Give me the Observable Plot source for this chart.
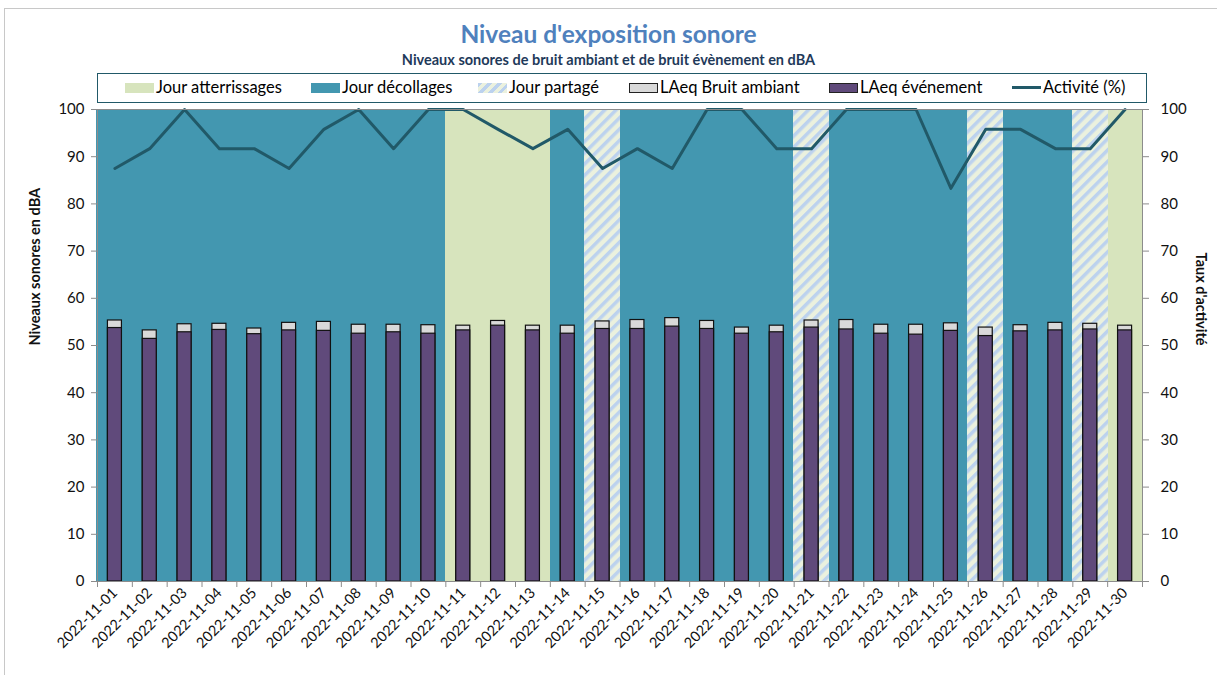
<!DOCTYPE html>
<html>
<head>
<meta charset="utf-8">
<script src="https://cdn.jsdelivr.net/npm/d3@7"></script>
<script src="https://cdn.jsdelivr.net/npm/@observablehq/plot@0.6"></script>
<style>
  body { margin: 0; background: #fff; font-family: Lato, "Open Sans", sans-serif; }
  #outer { position: absolute; left: 4px; top: 8px; width: 1240px; height: 700px; border: 1px solid #c8c8c8; box-sizing: border-box; }
  #wrap { position: relative; width: 1217px; }
  #head { position: relative; height: 90px; }
  #title { position: absolute; left: 0; width: 1217px; top: 20px; text-align: center; font-size: 24.5px; font-weight: bold; color: #4f81bd; line-height: 28px; }
  #subtitle { position: absolute; left: 0; width: 1217px; top: 51px; text-align: center; font-size: 14.5px; font-weight: bold; color: #1f3a5a; line-height: 17px; }
  #legend { position: absolute; left: 97px; top: 73px; width: 1050px; height: 30px; border: 1.5px solid #215968; box-sizing: border-box; font-size: 16.5px; z-index: 2; background: #fff; }
  .li { position: absolute; top: 0; height: 27px; line-height: 27px; white-space: nowrap; }
  .sw { display: inline-block; width: 29px; height: 10px; vertical-align: middle; margin-right: 2px; box-sizing: border-box; position: relative; top: -1px; }
  .ln { display: inline-block; width: 29px; height: 3px; background: #215968; vertical-align: middle; margin-right: 2px; position: relative; top: -1px; }
</style>
</head>
<body>
<div id="outer"></div>
<div id="wrap">
  <div id="head">
    <div id="title">Niveau d'exposition sonore</div>
    <div id="subtitle">Niveaux sonores de bruit ambiant et de bruit évènement en dBA</div>
    <div id="legend"></div>
  </div>
  <div id="chart"></div>
</div>
<script>
const dates = ["2022-11-01","2022-11-02","2022-11-03","2022-11-04","2022-11-05","2022-11-06","2022-11-07","2022-11-08","2022-11-09","2022-11-10",
  "2022-11-11","2022-11-12","2022-11-13","2022-11-14","2022-11-15","2022-11-16","2022-11-17","2022-11-18","2022-11-19","2022-11-20",
  "2022-11-21","2022-11-22","2022-11-23","2022-11-24","2022-11-25","2022-11-26","2022-11-27","2022-11-28","2022-11-29","2022-11-30"];
// D = Jour décollages, A = Jour atterrissages, P = Jour partagé
const dayType = ["D","D","D","D","D","D","D","D","D","D",
  "A","A","A","D","P","D","D","D","D","D",
  "P","D","D","D","D","P","D","D","P","A"];
const laeqAmbiant = [55.3,53.2,54.5,54.6,53.6,54.8,55.0,54.4,54.4,54.3,
  54.2,55.2,54.2,54.2,55.1,55.4,55.8,55.2,53.8,54.2,
  55.3,55.4,54.4,54.4,54.7,53.8,54.3,54.8,54.6,54.2];
const laeqEvenement = [53.7,51.4,52.8,53.3,52.4,53.2,53.1,52.5,52.8,52.5,
  53.2,54.2,53.2,52.5,53.5,53.5,54.0,53.5,52.5,52.8,
  53.8,53.4,52.5,52.3,53.1,52.0,53.0,53.2,53.4,53.2];
const activite = [87.5,91.7,100,91.7,91.7,87.5,95.8,100,91.7,100,
  100,95.8,91.7,95.8,87.5,91.7,87.5,100,100,91.7,
  91.7,100,100,100,83.3,95.8,95.8,91.7,91.7,100];
const yTicks = [0,10,20,30,40,50,60,70,80,90,100];

const legendItems = [
  {label: "Jour atterrissages", kind: "A", left: 27},
  {label: "Jour décollages", kind: "D", left: 213},
  {label: "Jour partagé", kind: "P", left: 380},
  {label: "LAeq Bruit ambiant", kind: "G", left: 531},
  {label: "LAeq événement", kind: "E", left: 731},
  {label: "Activité (%)", kind: "L", left: 914}
];

const C = {
  A: "#d7e4bd", D: "#4397b0", Pbg: "#ebf1de", Pstripe: "#bcd2ee",
  grey: "#d9d9d9", purple: "#604a7b", line: "#215968", axis: "#8c8c8c"
};

const rows = dates.map((d, i) => ({date: d, type: dayType[i], ambiant: laeqAmbiant[i], evenement: laeqEvenement[i], activite: activite[i]}));

// legend
const leg = document.getElementById("legend");
for (const it of legendItems) {
  const el = document.createElement("div");
  el.className = "li";
  el.style.left = it.left + "px";
  let sw;
  if (it.kind === "L") {
    sw = document.createElement("span"); sw.className = "ln";
  } else {
    sw = document.createElement("span"); sw.className = "sw";
    if (it.kind === "A") sw.style.background = C.A;
    if (it.kind === "D") sw.style.background = C.D;
    if (it.kind === "P") sw.style.background = `repeating-linear-gradient(135deg, ${C.Pstripe} 0 3px, ${C.Pbg} 3px 7px)`;
    if (it.kind === "G") { sw.style.background = C.grey; sw.style.border = "1.5px solid #222"; }
    if (it.kind === "E") { sw.style.background = C.purple; sw.style.border = "1.5px solid #222"; }
  }
  el.appendChild(sw);
  el.appendChild(document.createTextNode(it.label));
  leg.appendChild(el);
}

const W = 1217, H = 585, mL = 97, mR = 75, mT = 19, mB = 94;
const bw = (W - mL - mR) / dates.length;
const barInset = (bw - 14) / 2;
const bgOpts = {x: "date", y1: 0, y2: 100, insetLeft: -0.6, insetRight: -0.6, shapeRendering: "crispEdges"};

const chart = Plot.plot({
  width: W, height: H,
  marginLeft: mL, marginRight: mR, marginTop: mT, marginBottom: mB,
  style: {fontFamily: "Lato, 'Open Sans', sans-serif", fontSize: "15px", color: "#111", background: "transparent"},
  x: {type: "band", domain: dates, padding: 0, round: false, label: null},
  y: {domain: [0, 100], label: null},
  marks: [
    Plot.barY(rows.filter(r => r.type === "D"), {...bgOpts, fill: C.D}),
    Plot.barY(rows.filter(r => r.type === "A"), {...bgOpts, fill: C.A}),
    Plot.barY(rows.filter(r => r.type === "P"), {...bgOpts, fill: "url(#hatch)"}),
    Plot.barY(rows, {x: "date", y1: 0, y2: "ambiant", fill: C.grey, stroke: "#111", strokeWidth: 1.2, insetLeft: barInset, insetRight: barInset}),
    Plot.barY(rows, {x: "date", y1: 0, y2: "evenement", fill: C.purple, stroke: "#111", strokeWidth: 1.2, insetLeft: barInset, insetRight: barInset}),
    Plot.line(rows, {x: "date", y: "activite", stroke: C.line, strokeWidth: 3}),
    Plot.frame({stroke: C.axis}),
    Plot.ruleX(dates, {x: d => d, y1: 0, y2: 0, dx: -bw / 2, insetBottom: -6, stroke: C.axis}),
    Plot.ruleX([dates[dates.length - 1]], {x: d => d, y1: 0, y2: 0, dx: bw / 2, insetBottom: -6, stroke: C.axis}),
    Plot.axisY({anchor: "left", ticks: yTicks, tickSize: 6, tickPadding: 7, stroke: C.axis, label: null, fill: "#111"}),
    Plot.axisY({anchor: "right", ticks: yTicks, tickSize: 6, tickPadding: 12, stroke: C.axis, label: null, fill: "#111"}),
    Plot.axisX({tickRotate: -45, tickSize: 0, tickPadding: 9, fontSize: 14.5, label: null, fill: "#111"}),
    Plot.text(["Niveaux sonores en dBA"], {frameAnchor: "left", dx: -62, rotate: -90, fontWeight: "bold", fontSize: 14.5, fill: "#111"}),
    Plot.text(["Taux d'activité"], {frameAnchor: "right", dx: 58, rotate: 90, fontWeight: "bold", fontSize: 14.5, fill: "#111"})
  ]
});

// hatch pattern for "Jour partagé"
const ns = "http://www.w3.org/2000/svg";
const defs = document.createElementNS(ns, "defs");
const pat = document.createElementNS(ns, "pattern");
pat.setAttribute("id", "hatch");
pat.setAttribute("patternUnits", "userSpaceOnUse");
pat.setAttribute("width", "8");
pat.setAttribute("height", "8");
pat.setAttribute("patternTransform", "rotate(45)");
const r1 = document.createElementNS(ns, "rect");
r1.setAttribute("width", "8"); r1.setAttribute("height", "8"); r1.setAttribute("fill", C.Pbg);
const r2 = document.createElementNS(ns, "rect");
r2.setAttribute("width", "3.5"); r2.setAttribute("height", "8"); r2.setAttribute("fill", C.Pstripe);
pat.appendChild(r1); pat.appendChild(r2);
defs.appendChild(pat);
chart.insertBefore(defs, chart.firstChild);

document.getElementById("chart").appendChild(chart);
</script>
</body>
</html>
